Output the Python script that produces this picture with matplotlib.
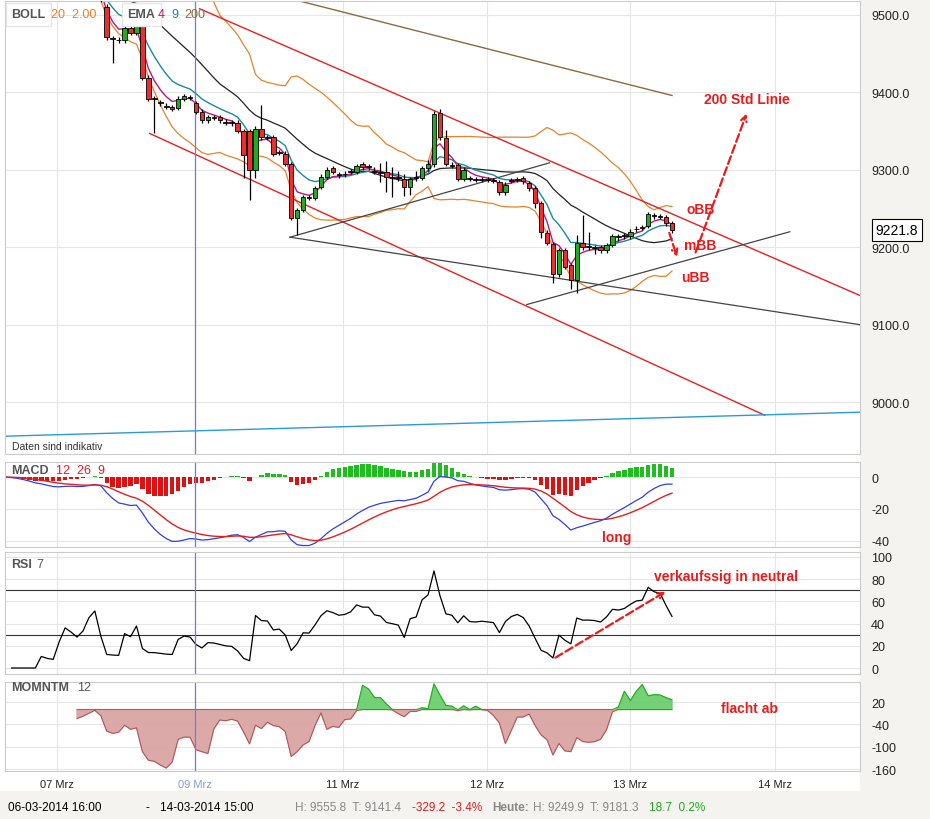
import numpy as np
import pandas as pd
import matplotlib
matplotlib.use("Agg")
import matplotlib.pyplot as plt
from matplotlib.patches import Rectangle

plt.rcParams['font.family'] = ['Liberation Sans', 'DejaVu Sans']
plt.rcParams['axes.unicode_minus'] = False

# ---------------- data (hourly candles, first 17 lie above visible range) -------------
opens = [9550, 9552, 9548, 9545, 9540, 9536, 9530, 9533, 9528, 9525, 9530, 9535, 9532, 9528, 9530, 9535, 9538,
         9510, 9470, 9468, 9467, 9483, 9477, 9492, 9419, 9392, 9387, 9383, 9381, 9380, 9392, 9394, 9386, 9375,
         9364, 9368, 9368, 9362, 9361, 9361, 9350, 9350, 9300, 9353, 9342, 9342, 9323, 9321, 9307, 9238, 9248,
         9265, 9264, 9278, 9291, 9302, 9294, 9295, 9298, 9297, 9307, 9305, 9298, 9297, 9297, 9291, 9290, 9288,
         9278, 9290, 9290, 9302, 9307, 9373, 9341, 9306, 9306, 9288, 9289, 9288, 9287, 9288, 9287, 9284, 9271,
         9287, 9287, 9289, 9283, 9276, 9257, 9219, 9204, 9165, 9196, 9177, 9158, 9206, 9201, 9200, 9200, 9196,
         9203, 9214, 9214, 9214, 9223, 9226, 9228, 9241, 9240, 9239, 9231]
closes = [9552, 9548, 9545, 9540, 9536, 9530, 9533, 9528, 9525, 9530, 9535, 9532, 9528, 9530, 9535, 9538, 9520,
          9472, 9469, 9467, 9483, 9477, 9486, 9419, 9392, 9391, 9386, 9381, 9379, 9392, 9395, 9393, 9375, 9364,
          9368, 9367, 9364, 9361, 9360, 9350, 9319, 9300, 9353, 9342, 9341, 9321, 9322, 9308, 9238, 9248, 9265,
          9264, 9276, 9291, 9300, 9297, 9293, 9294, 9297, 9305, 9303, 9303, 9297, 9296, 9291, 9290, 9289, 9278,
          9288, 9289, 9302, 9307, 9372, 9342, 9308, 9305, 9288, 9300, 9288, 9287, 9288, 9287, 9286, 9271, 9281,
          9286, 9288, 9285, 9276, 9257, 9220, 9206, 9166, 9196, 9175, 9158, 9206, 9200, 9200, 9199, 9196, 9203,
          9214, 9213, 9215, 9220, 9224, 9225, 9243, 9240, 9239, 9231, 9222]
hi_ext = [3]*17 + [4, 3, 3, 3, 3, 3, 6, 3, 3, 3, 3, 3, 3, 3, 3, 3, 3,
                   3, 3, 3, 3, 3, 3, 3, 3, 3, 31, 3, 3, 3, 3, 3, 3, 3,
                   3, 3, 3, 3, 3, 3, 3, 3, 3, 3, 3, 6, 12, 14, 12, 8, 6, 3,
                   8, 3, 6, 4, 6, 10, 4, 3, 3, 3, 3, 3, 3, 3, 3,
                   3, 3, 3, 3, 3, 3, 3, 3, 3, 3, 3, 3, 10, 36, 19, 3, 3,
                   3, 3, 3, 3, 3, 3, 3, 3, 3, 3, 3, 3]
lo_ext = [3]*17 + [4, 31, 3, 3, 3, 3, 3, 3, 44, 3, 3, 3, 3, 3, 3, 3, 3,
                   3, 3, 3, 3, 3, 3, 29, 39, 10, 3, 3, 3, 3, 3, 3, 22, 3,
                   3, 3, 3, 3, 3, 3, 3, 3, 3, 3, 3, 3, 12, 20, 25, 3, 12, 10,
                   3, 3, 3, 3, 3, 3, 3, 3, 3, 3, 3, 3, 3, 3, 3,
                   3, 3, 3, 3, 3, 6, 8, 3, 12, 3, 3, 12, 17, 3, 3, 8, 3,
                   3, 3, 5, 3, 3, 3, 3, 3, 3, 3, 3, 3]
n_hidden = 17

# EMA 200 (needs longer history than shown)
ema200_idx = [32.4, 60.0, 95.0]
ema200_val = [9518, 9464, 9396]

# drawn trend lines: (index, price) endpoints
red_channel = [[(15.6, 9508), (127.4, 9135)], [(7.2, 9347), (110.6, 8983)]]
black_lines = [[(30.8, 9213), (74.4, 9309)], [(30.8, 9213), (126.6, 9100)], [(70.6, 9126), (114.8, 9220)]]
blue_line = [(-17.1, 8956), (126.6, 8987)]

date_pos = [-8.4, 14.8, 39.7, 63.9, 87.9, 112.3]
date_lab = ["07 Mrz", "09 Mrz", "11 Mrz", "12 Mrz", "13 Mrz", "14 Mrz"]
price_ticks = [9000, 9100, 9200, 9300, 9400, 9500]

# ---------------- indicators ----------------
O = np.array(opens, float); C = np.array(closes, float)
H = np.maximum(O, C) + np.array(hi_ext); L = np.minimum(O, C) - np.array(lo_ext)
x = np.arange(len(C)) - n_hidden
s = pd.Series(C)
mid = s.rolling(20, min_periods=1).mean()
sd = s.rolling(20, min_periods=2).std(ddof=0).bfill()
up, lo = mid + 2*sd, mid - 2*sd
e4 = s.ewm(span=4, adjust=False).mean(); e9 = s.ewm(span=9, adjust=False).mean()
macd = s.ewm(span=12, adjust=False).mean() - s.ewm(span=26, adjust=False).mean()
sig = macd.ewm(span=9, adjust=False).mean(); hist = macd - sig
d = s.diff()
g = d.clip(lower=0).ewm(alpha=1/7, adjust=False).mean(); l_ = (-d.clip(upper=0)).ewm(alpha=1/7, adjust=False).mean()
rsi = 100 - 100/(1 + g/l_)
mom = s - s.shift(12)

# ---------------- figure ----------------
fig = plt.figure(figsize=(9.3, 8.2), dpi=100)
bg = "#f4f3ef"
fig.patches.append(Rectangle((860/930, 0), 70/930, 1, transform=fig.transFigure, color=bg, zorder=-5))
fig.patches.append(Rectangle((0, 0), 1, 28/820, transform=fig.transFigure, color=bg, zorder=-5))

X0, W = 5/930, 855/930
def mk(top, bot):
    return fig.add_axes([X0, 1-bot/820, W, (bot-top)/820])
axm = mk(2, 455); axd = mk(463, 548); axr = mk(553, 675); axo = mk(683, 772)
XL = (-17.1, 126.6)
for a in (axm, axd, axr, axo):
    a.set_xlim(*XL)
    a.yaxis.tick_right()
    a.tick_params(axis="y", length=0, labelsize=9, labelcolor="#222", pad=8)
    a.tick_params(axis="x", length=0)
    a.set_xticks(date_pos)
    a.grid(True, color="#e6e6e6", lw=0.8)
    a.set_axisbelow(True)
    for sp in a.spines.values():
        sp.set_color("#cccccc")
    a.axvline(14.8, color="#5f82ea", lw=0.9, zorder=2.5)
for a in (axm, axd, axr):
    a.set_xticklabels([])

# main
axm.set_ylim(8933, 9518)
axm.set_yticks(price_ticks); axm.set_yticklabels([f"{v:.1f}" for v in price_ticks])
axm.plot(x, up, color="#e8822a", lw=0.9); axm.plot(x, lo, color="#e8822a", lw=0.9)
axm.plot(x, mid, color="#222", lw=0.9)
axm.plot(x, e9, color="#1a8a9a", lw=1.0); axm.plot(x, e4, color="#c0157f", lw=1.0)
axm.plot(ema200_idx, ema200_val, color="#8b6a3e", lw=1.0)
for seg in red_channel:
    axm.plot(*zip(*seg), color="#e82020", lw=1.0)
for seg in black_lines:
    axm.plot(*zip(*seg), color="#444", lw=0.9)
axm.plot(*zip(*blue_line), color="#2a9ad8", lw=1.0)
for xi, o, h, l, c in zip(x, O, H, L, C):
    col = "#22aa22" if c >= o else "#e83030"
    axm.vlines(xi, l, h, color="black", lw=0.9, zorder=3)
    axm.add_patch(Rectangle((xi-0.38, min(o, c)), 0.76, max(abs(c-o), 1.2),
                            facecolor=col, edgecolor="black", lw=0.6, zorder=4))
ty = 9501
axm.text(-16, ty, "BOLL", fontsize=9, fontweight="bold", color="#555", va="center", zorder=6,
         bbox=dict(fc="white", ec="#e6e6e6", boxstyle="square,pad=0.45"))
axm.text(-9.3, ty, "20  2.00", fontsize=9, color="#e8822a", va="center", zorder=7)
axm.text(3.5, ty, "EMA", fontsize=9, fontweight="bold", color="#555", va="center", zorder=6,
         bbox=dict(fc="white", ec="#e6e6e6", boxstyle="square,pad=0.45"))
axm.text(8.6, ty, "4", fontsize=9, color="#c0157f", va="center", zorder=7)
axm.text(10.8, ty, "9", fontsize=9, color="#1a8a9a", va="center", zorder=7)
axm.text(13.0, ty, "200", fontsize=9, color="#8b6a3e", va="center", zorder=7)
axm.text(-16, 8940, "Daten sind indikativ", fontsize=7.5, color="#333")
red = "#e81c1c"
for t, xx, yy in [("200 Std Linie", 100.4, 9392), ("oBB", 97.5, 9250), ("mBB", 97.0, 9203), ("uBB", 96.5, 9162)]:
    axm.text(xx, yy, t, color=red, fontsize=10, fontweight="bold", va="center")
axm.annotate("", xy=(96.0, 9184), xytext=(94.4, 9222),
             arrowprops=dict(arrowstyle="->", color=red, lw=1.6, ls="--"))
axm.annotate("", xy=(107.7, 9376), xytext=(98.8, 9190),
             arrowprops=dict(arrowstyle="->", color=red, lw=1.6, ls="--"))
fig.text(897/930, 1-231/820, "9221.8", fontsize=10, ha="center", va="center",
         bbox=dict(fc="white", ec="black", lw=0.8, boxstyle="square,pad=0.3"))

# MACD
axd.set_ylim(-44, 9.5)
axd.set_yticks([0, -20, -40])
cols = ["#22bb22" if v >= 0 else "#dd1111" for v in hist]
axd.bar(x, hist, width=0.75, color=cols)
axd.plot(x, macd, color="#3040e0", lw=0.9); axd.plot(x, sig, color="#e02020", lw=1.0)
axd.text(-16, 4.5, "MACD", fontsize=9, fontweight="bold", color="#555", va="center")
axd.text(-8.5, 4.5, "12  26  9", fontsize=9, color="#e02020", va="center")
axd.text(83.3, -38, "long", color=red, fontsize=10, fontweight="bold", va="center")

# RSI
axr.set_ylim(-5.4, 104.5)
axr.set_yticks([0, 20, 40, 60, 80, 100])
axr.axhline(70, color="#333", lw=0.8); axr.axhline(30, color="#333", lw=0.8)
axr.plot(x, rsi, color="black", lw=0.9)
axr.text(-16, 94, "RSI", fontsize=9, fontweight="bold", color="#555", va="center")
axr.text(-11.8, 94, "7", fontsize=9, color="#555", va="center")
axr.annotate("", xy=(94.3, 70), xytext=(75.0, 8),
             arrowprops=dict(arrowstyle="->", color=red, lw=1.6, ls="--"))
axr.text(92.0, 83, "verkaufssig in neutral", color=red, fontsize=10, fontweight="bold", va="center")

# MOMENTUM
axo.set_ylim(-165, 74)
axo.set_yticks([20, -40, -100, -160])
axo.fill_between(x, 0, mom, where=mom >= 0, interpolate=True, color="#66cc66", alpha=0.9)
axo.fill_between(x, 0, mom, where=mom <= 0, interpolate=True, color="#d9a0a0", alpha=0.9)
axo.plot(x, mom.clip(lower=0), color="#22aa22", lw=0.7)
axo.plot(x, mom.clip(upper=0), color="#b35050", lw=0.7)
axo.text(-16, 60, "MOMNTM", fontsize=9, fontweight="bold", color="#555", va="center")
axo.text(-5.0, 60, "12", fontsize=9, color="#555", va="center")
axo.text(103.2, 3, "flacht ab", color=red, fontsize=10, fontweight="bold", va="center")
axo.set_xticklabels(date_lab, fontsize=8, color="#222")
axo.get_xticklabels()[1].set_color("#7f9fd5")
axo.tick_params(axis="x", pad=6)

# footer
fy = 1-808/820
fs = 8.5
fig.text(8/930, fy, "06-03-2014 16:00", fontsize=fs, va="center")
fig.text(145/930, fy, "-", fontsize=fs, va="center")
fig.text(160/930, fy, "14-03-2014 15:00", fontsize=fs, va="center")
fig.text(295/930, fy, "H: 9555.8  T: 9141.4", fontsize=fs, color="#888", va="center")
fig.text(412/930, fy, "-329.2  -3.4%", fontsize=fs, color="#e02020", va="center")
fig.text(492/930, fy, "Heute:", fontsize=fs, color="#888", va="center", fontweight="bold")
fig.text(533/930, fy, "H: 9249.9  T: 9181.3", fontsize=fs, color="#888", va="center")
fig.text(649/930, fy, "18.7  0.2%", fontsize=fs, color="#22aa22", va="center")

fig.savefig("out.png", dpi=100)
